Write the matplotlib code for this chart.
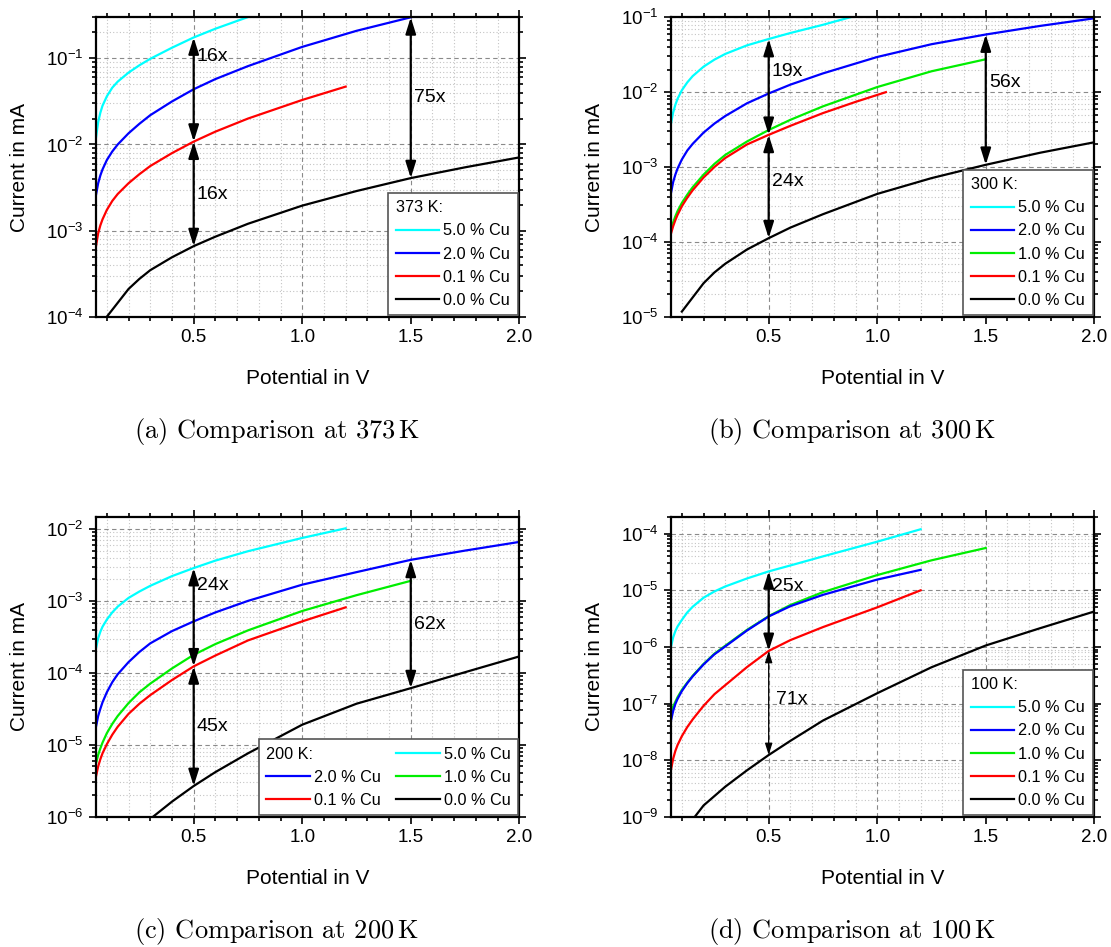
import matplotlib
matplotlib.use("Agg")
import matplotlib.pyplot as plt
from matplotlib.lines import Line2D
from matplotlib.ticker import FixedLocator, MultipleLocator, LogLocator, NullFormatter, FuncFormatter
import numpy as np

plt.rcParams['font.family'] = ['Liberation Sans', 'DejaVu Sans']
plt.rcParams['mathtext.default'] = 'regular'
plt.rcParams['mathtext.fontset'] = 'cm'

# ---- data (potential in V, current in mA) ----
# (a) 373 K
V_a5 = [0.05, 0.06, 0.07, 0.08, 0.1, 0.125, 0.15, 0.2, 0.25, 0.3, 0.4, 0.5, 0.6, 0.75]
I_a5 = [0.012, 0.0182, 0.0234, 0.0282, 0.0363, 0.0457, 0.0537, 0.0684, 0.0832, 0.0989, 0.133, 0.175, 0.221, 0.302]
V_a2 = [0.05, 0.06, 0.07, 0.08, 0.1, 0.125, 0.15, 0.2, 0.25, 0.3, 0.4, 0.5, 0.6, 0.75, 1.0, 1.25, 1.5]
I_a2 = [2.6e-3, 3.55e-3, 4.37e-3, 5.13e-3, 6.6e-3, 8.3e-3, 0.010, 0.0135, 0.0174, 0.0219, 0.0316, 0.0438,
        0.0575, 0.0813, 0.136, 0.209, 0.30]
V_a01 = [0.05, 0.06, 0.07, 0.08, 0.1, 0.125, 0.15, 0.2, 0.25, 0.3, 0.4, 0.5, 0.6, 0.75, 1.0, 1.2]
I_a01 = [6.6e-4, 9.3e-4, 1.15e-3, 1.35e-3, 1.74e-3, 2.21e-3, 2.66e-3, 3.55e-3, 4.52e-3, 5.62e-3, 7.94e-3,
         0.0108, 0.0141, 0.020, 0.0329, 0.047]
V_a0 = [0.1, 0.2, 0.25, 0.3, 0.4, 0.5, 0.6, 0.75, 1.0, 1.25, 1.5, 1.75, 2.0]
I_a0 = [1.0e-4, 2.1e-4, 2.75e-4, 3.47e-4, 4.9e-4, 6.6e-4, 8.5e-4, 1.2e-3, 1.95e-3, 2.88e-3, 4.07e-3, 5.43e-3, 7.08e-3]

# (b) 300 K
V_b5 = [0.05, 0.06, 0.07, 0.08, 0.1, 0.125, 0.15, 0.2, 0.25, 0.3, 0.4, 0.5, 0.6, 0.75, 0.875]
I_b5 = [3.8e-3, 5.37e-3, 6.76e-3, 8.13e-3, 0.0106, 0.0135, 0.0164, 0.0219, 0.0272, 0.0324, 0.0422, 0.0513,
        0.0617, 0.0794, 0.1]
V_b2 = [0.05, 0.06, 0.07, 0.08, 0.1, 0.125, 0.15, 0.2, 0.25, 0.3, 0.4, 0.5, 0.6, 0.75, 1.0, 1.25, 1.5, 1.75, 2.0]
I_b2 = [4.5e-4, 6.3e-4, 7.9e-4, 9.5e-4, 1.26e-3, 1.66e-3, 2.04e-3, 2.88e-3, 3.8e-3, 4.8e-3, 7.1e-3, 9.6e-3,
        0.0126, 0.0178, 0.0295, 0.0437, 0.0589, 0.0767, 0.097]
V_b1 = [0.05, 0.06, 0.07, 0.08, 0.1, 0.125, 0.15, 0.2, 0.25, 0.3, 0.4, 0.5, 0.6, 0.75, 1.0, 1.25, 1.5]
I_b1 = [1.45e-4, 1.82e-4, 2.19e-4, 2.57e-4, 3.31e-4, 4.27e-4, 5.37e-4, 7.9e-4, 1.1e-3, 1.45e-3, 2.19e-3,
        3.12e-3, 4.27e-3, 6.46e-3, 0.0117, 0.019, 0.0275]
V_b01 = [0.05, 0.06, 0.07, 0.08, 0.1, 0.125, 0.15, 0.2, 0.25, 0.3, 0.4, 0.5, 0.6, 0.75, 0.9, 1.04]
I_b01 = [1.29e-4, 1.62e-4, 1.95e-4, 2.29e-4, 2.99e-4, 3.89e-4, 4.9e-4, 7.24e-4, 1.0e-3, 1.32e-3, 2.0e-3,
         2.69e-3, 3.55e-3, 5.25e-3, 7.41e-3, 0.01]
V_b0 = [0.1, 0.2, 0.25, 0.3, 0.4, 0.5, 0.6, 0.75, 1.0, 1.25, 1.5, 1.75, 2.0]
I_b0 = [1.17e-5, 2.8e-5, 3.9e-5, 5.1e-5, 7.9e-5, 1.12e-4, 1.55e-4, 2.34e-4, 4.37e-4, 7.1e-4, 1.07e-3, 1.55e-3, 2.14e-3]

# (c) 200 K
V_c5 = [0.05, 0.06, 0.07, 0.08, 0.1, 0.125, 0.15, 0.2, 0.25, 0.3, 0.4, 0.5, 0.6, 0.75, 1.0, 1.2]
I_c5 = [2.19e-4, 3.02e-4, 3.72e-4, 4.37e-4, 5.5e-4, 6.92e-4, 8.32e-4, 1.1e-3, 1.35e-3, 1.62e-3, 2.21e-3,
        2.86e-3, 3.63e-3, 4.9e-3, 7.5e-3, 0.0102]
V_c2 = [0.05, 0.06, 0.07, 0.08, 0.1, 0.125, 0.15, 0.2, 0.25, 0.3, 0.4, 0.5, 0.6, 0.75, 1.0, 1.25, 1.5, 1.75, 2.0]
I_c2 = [1.78e-5, 2.51e-5, 3.16e-5, 3.89e-5, 5.37e-5, 7.41e-5, 9.55e-5, 1.41e-4, 1.95e-4, 2.57e-4, 3.8e-4,
        5.19e-4, 6.92e-4, 1.0e-3, 1.68e-3, 2.51e-3, 3.72e-3, 5.0e-3, 6.6e-3]
V_c1 = [0.05, 0.06, 0.07, 0.08, 0.1, 0.125, 0.15, 0.2, 0.25, 0.3, 0.4, 0.5, 0.6, 0.75, 1.0, 1.25, 1.5]
I_c1 = [5.5e-6, 7.24e-6, 8.9e-6, 1.07e-5, 1.45e-5, 1.95e-5, 2.51e-5, 3.8e-5, 5.37e-5, 7.08e-5, 1.15e-4,
        1.78e-4, 2.51e-4, 3.89e-4, 7.24e-4, 1.2e-3, 1.9e-3]
V_c01 = [0.05, 0.06, 0.07, 0.08, 0.1, 0.125, 0.15, 0.2, 0.25, 0.3, 0.4, 0.5, 0.6, 0.75, 1.0, 1.2]
I_c01 = [3.63e-6, 5.0e-6, 6.3e-6, 7.6e-6, 1.02e-5, 1.38e-5, 1.78e-5, 2.69e-5, 3.72e-5, 4.9e-5, 7.94e-5,
         1.23e-4, 1.74e-4, 2.82e-4, 5.19e-4, 8.13e-4]
V_c0 = [0.313, 0.4, 0.5, 0.6, 0.75, 1.0, 1.25, 1.5, 1.75, 2.0]
I_c0 = [1.0e-6, 1.62e-6, 2.67e-6, 4.17e-6, 7.6e-6, 1.9e-5, 3.72e-5, 6.12e-5, 1.02e-4, 1.69e-4]

# (d) 100 K
V_d5 = [0.05, 0.06, 0.07, 0.08, 0.1, 0.125, 0.15, 0.2, 0.25, 0.3, 0.4, 0.5, 0.6, 0.75, 1.0, 1.2]
I_d5 = [1.0e-6, 1.48e-6, 1.9e-6, 2.29e-6, 3.0e-6, 4.07e-6, 5.13e-6, 7.41e-6, 9.55e-6, 1.17e-5, 1.62e-5,
        2.16e-5, 2.75e-5, 3.98e-5, 7.24e-5, 1.2e-4]
V_d2 = [0.05, 0.06, 0.07, 0.08, 0.1, 0.125, 0.15, 0.2, 0.25, 0.3, 0.4, 0.5, 0.6, 0.75, 1.0, 1.2]
I_d2 = [5.0e-8, 7.4e-8, 9.8e-8, 1.2e-7, 1.66e-7, 2.29e-7, 3.02e-7, 4.9e-7, 7.41e-7, 1.02e-6, 1.95e-6,
        3.45e-6, 5.25e-6, 8.32e-6, 1.55e-5, 2.3e-5]
V_d1 = [0.05, 0.06, 0.07, 0.08, 0.1, 0.125, 0.15, 0.2, 0.25, 0.3, 0.4, 0.5, 0.6, 0.75, 1.0, 1.25, 1.5]
I_d1 = [7.1e-8, 8.9e-8, 1.07e-7, 1.29e-7, 1.74e-7, 2.34e-7, 3.09e-7, 5.0e-7, 7.59e-7, 1.05e-6, 2.0e-6,
        3.5e-6, 5.5e-6, 9.3e-6, 1.86e-5, 3.39e-5, 5.6e-5]
V_d01 = [0.05, 0.06, 0.07, 0.08, 0.1, 0.125, 0.15, 0.2, 0.25, 0.3, 0.4, 0.5, 0.6, 0.75, 1.0, 1.2]
I_d01 = [6.8e-9, 1.06e-8, 1.45e-8, 1.84e-8, 2.65e-8, 3.84e-8, 5.25e-8, 9.1e-8, 1.46e-7, 2.11e-7, 4.4e-7,
         8.5e-7, 1.32e-6, 2.24e-6, 5.0e-6, 1.0e-5]
V_d0 = [0.16, 0.2, 0.3, 0.4, 0.5, 0.6, 0.75, 1.0, 1.25, 1.5, 1.75, 2.0]
I_d0 = [1.0e-9, 1.58e-9, 3.39e-9, 6.6e-9, 1.23e-8, 2.19e-8, 5.0e-8, 1.52e-7, 4.37e-7, 1.06e-6, 2.14e-6, 4.23e-6]

labels = {'5': '5.0 % Cu', '2': '2.0 % Cu', '1': '1.0 % Cu', '01': '0.1 % Cu', '0': '0.0 % Cu'}
colors = {'5': '#00ffff', '2': '#0000ff', '1': '#00ee00', '01': '#ff0000', '0': '#000000'}

panels = [
    dict(pos=[96, 17.3, 519.3, 316.7], temp='373 K:', ylim=(1e-4, 0.3), caption='(a) Comparison at 373$\\,$K',
         series={'5': (V_a5, I_a5), '2': (V_a2, I_a2), '01': (V_a01, I_a01), '0': (V_a0, I_a0)},
         order=['5', '2', '01', '0'], ncol=1,
         arrows=[(0.5, '5', '01', '16x', 0.105), (0.5, '01', '0', '16x', 2.6e-3), (1.5, '2', '0', '75x', 0.035)]),
    dict(pos=[671, 17.3, 1094.3, 316.7], temp='300 K:', ylim=(1e-5, 0.1), caption='(b) Comparison at 300$\\,$K',
         series={'5': (V_b5, I_b5), '2': (V_b2, I_b2), '1': (V_b1, I_b1), '01': (V_b01, I_b01), '0': (V_b0, I_b0)},
         order=['5', '2', '1', '01', '0'], ncol=1,
         arrows=[(0.5, '5', '01', '19x', 0.0188), (0.5, '01', '0', '24x', 6.4e-4), (1.5, '2', '0', '56x', 0.0134)]),
    dict(pos=[96, 516.7, 519.3, 816.7], temp='200 K:', ylim=(1e-6, 0.0148), caption='(c) Comparison at 200$\\,$K',
         series={'5': (V_c5, I_c5), '2': (V_c2, I_c2), '1': (V_c1, I_c1), '01': (V_c01, I_c01), '0': (V_c0, I_c0)},
         order=['2', '01', '5', '1', '0'], ncol=2,
         arrows=[(0.5, '5', '01', '24x', 1.63e-3), (0.5, '01', '0', '45x', 1.8e-5), (1.5, '2', '0', '62x', 4.7e-4)]),
    dict(pos=[671, 516.7, 1094.3, 816.7], temp='100 K:', ylim=(1e-9, 2e-4), caption='(d) Comparison at 100$\\,$K',
         series={'5': (V_d5, I_d5), '2': (V_d2, I_d2), '1': (V_d1, I_d1), '01': (V_d01, I_d01), '0': (V_d0, I_d0)},
         order=['5', '2', '1', '01', '0'], ncol=1,
         arrows=[(0.5, '5', '01', '25x', 1.17e-5), (0.5, '01', '0', '71x', 1.16e-7)]),
]

W, H = 1111, 947
fig = plt.figure(figsize=(W / 100, H / 100), dpi=100)


def value_at(V, I, v):
    return I[V.index(v)]


for p in panels:
    x0, y0, x1, y1 = p['pos']
    ax = fig.add_axes([x0 / W, 1 - y1 / H, (x1 - x0) / W, (y1 - y0) / H])
    lines = {}
    for key in ['1', '0', '01', '2', '5']:
        if key in p['series']:
            V, I = p['series'][key]
            lines[key], = ax.plot(V, I, color=colors[key], lw=1.6, label=labels[key])
    ax.set_yscale('log')
    ax.set_xlim(0.05, 2.0)
    ax.set_ylim(*p['ylim'])

    ax.xaxis.set_major_locator(FixedLocator([0.5, 1.0, 1.5, 2.0]))
    ax.xaxis.set_minor_locator(MultipleLocator(0.1))
    ax.xaxis.set_major_formatter(FuncFormatter(lambda v, pos: '%.1f' % v))
    ax.yaxis.set_major_locator(LogLocator(base=10, numticks=20))
    ax.yaxis.set_minor_locator(LogLocator(base=10, subs=np.arange(2, 10), numticks=20))
    ax.yaxis.set_minor_formatter(NullFormatter())
    ax.yaxis.set_major_formatter(FuncFormatter(lambda v, pos: r'$\mathregular{10^{%d}}$' % round(np.log10(v))))

    ax.grid(which='major', ls=(0, (4, 3)), color='#8a8a8a', lw=0.8)
    ax.grid(which='minor', ls=(0, (1, 2)), color='#c4c4c4', lw=0.8)
    ax.set_axisbelow(True)
    ax.tick_params(which='both', direction='out', top=True, right=True, width=1.2, labelsize=13.5)
    ax.tick_params(which='major', length=5, pad=4)
    ax.tick_params(which='minor', length=3)
    for s in ax.spines.values():
        s.set_linewidth(1.6)

    ax.set_xlabel('Potential in V', fontsize=15)
    ax.set_ylabel('Current in mA', fontsize=15)
    ax.xaxis.set_label_coords(0.5, -0.175)
    ax.yaxis.set_label_coords(-0.158, 0.5)

    # arrows showing the factors
    for xv, top, bot, txt, ty in p['arrows']:
        Vt, It = p['series'][top]
        Vb, Ib = p['series'][bot]
        thin = txt == '71x'
        ax.annotate('', xy=(xv, value_at(Vt, It, xv)), xytext=(xv, value_at(Vb, Ib, xv)),
                    arrowprops=dict(arrowstyle='<|-|>,head_length=0.7,head_width=0.22',
                                    color='k', lw=0.9 if thin else 1.6,
                                    mutation_scale=10 if thin else 14, shrinkA=0, shrinkB=0))
        ax.text(xv + (0.035 if thin else 0.015), ty, txt, fontsize=14, ha='left', va='center')

    handles = [Line2D([], [], color='none')] + [lines[k] for k in p['order']]
    names = [p['temp']] + [labels[k] for k in p['order']]
    leg = ax.legend(handles, names, loc='lower right', ncol=p['ncol'], fontsize=11.7,
                    handlelength=2.7, handletextpad=0.25, labelspacing=0.5, borderpad=0.45,
                    borderaxespad=0.1, columnspacing=0.9, fancybox=False, framealpha=1,
                    edgecolor='#555555')
    leg.get_frame().set_linewidth(1.2)
    # temperature entry has no line sample: drop its handle box
    first_item = leg._legend_handle_box.get_children()[0].get_children()[0]
    del first_item.get_children()[0]

    cx = (x0 + x1) / 2 - 31
    fig.text(cx / W, 1 - (y1 + 115) / H, p['caption'], fontfamily='cmr10', fontsize=19,
             ha='center', va='center')

fig.savefig('out.png', dpi=100)
